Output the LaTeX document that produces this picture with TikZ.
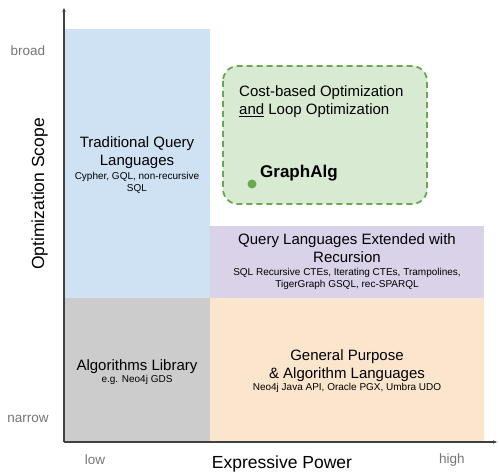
\documentclass[tikz,border=0pt]{standalone}
\usepackage{fontspec}
\setmainfont{Liberation Sans}
\usetikzlibrary{arrows.meta}

\definecolor{tradblue}{HTML}{CFE2F3}
\definecolor{libgray}{HTML}{CCCCCC}
\definecolor{recpurple}{HTML}{D9D2E9}
\definecolor{genorange}{HTML}{FCE5CD}
\definecolor{optfill}{HTML}{D9EAD3}
\definecolor{optline}{HTML}{6AA84F}
\definecolor{axgray}{HTML}{757575}

\tikzset{
  title/.style={font=\fontsize{15}{18}\selectfont, align=center, anchor=base, inner sep=0pt},
  sub/.style={font=\fontsize{10}{12.5}\selectfont, align=center, anchor=base, inner sep=0pt},
  axlabel/.style={font=\fontsize{13.5}{16}\selectfont, text=axgray, anchor=base, inner sep=0pt},
  axtitle/.style={font=\fontsize{17.5}{20}\selectfont, inner sep=0pt}
}

\begin{document}
\begin{tikzpicture}[x=1pt,y=-1pt]
   \useasboundingbox (0,0) rectangle (499,473);
   % quadrants
   \fill[tradblue]  (64,29)   rectangle (210,298);
   \fill[libgray]   (64,298)  rectangle (210,442);
   \fill[recpurple] (210,226) rectangle (484,298);
   \fill[genorange] (210,298) rectangle (484,442);
   % optimization box
   \filldraw[fill=optfill, draw=optline, line width=1.8pt, rounded corners=15pt,
             dash pattern=on 6pt off 4pt] (223,66) rectangle (427,204);
   \fill[optline] (252,184) circle(4.5);
   % axes
   \coordinate (origin) at (64,442);
   \coordinate (ytop)   at (64,7);
   \coordinate (xend)   at (498,442);
   \draw[-{Latex[length=5pt,width=3.5pt]}, line width=1.2pt, black!75] (origin) -- (ytop);
   \draw[-{Latex[length=5pt,width=3.5pt]}, line width=1.2pt, black!75] (origin) -- (xend);
   \node[axlabel] (broad)  at (28,56)  {broad};
   \node[axlabel] (narrow) at (28,423) {narrow};
   \node[axlabel] (low)    at (95,465) {low};
   \node[axlabel] (high)   at (452,464){high};
   \node[axtitle, anchor=base] (xtitle) at (282,469) {Expressive Power};
   \node[axtitle, rotate=90, anchor=base] (ytitle) at (44,194) {Optimization Scope};
   % texts
   \node[title] (tradT) at (137,166) {Traditional Query\\Languages};
   \node[sub]   (tradS) at (137,192) {Cypher, GQL, non-recursive\\SQL};
   \node[title] (libT)  at (137,371) {Algorithms Library};
   \node[sub]   (libS)  at (137,383) {e.g. Neo4j GDS};
   \node[title] (recT)  at (347,263) {Query Languages Extended with\\Recursion};
   \node[sub]   (recS)  at (347,288) {SQL Recursive CTEs, Iterating CTEs, Trampolines,\\TigerGraph GSQL, rec-SPARQL};
   \node[title] (genT)  at (347,379) {General Purpose\\\& Algorithm Languages};
   \node[sub]   (genS)  at (347,391) {Neo4j Java API, Oracle PGX, Umbra UDO};
   \node[title, align=left, anchor=base west] (optT) at (239,115) {Cost-based Optimization\\\underline{and} Loop Optimization};
   \node[font=\fontsize{17}{20}\selectfont\bfseries, anchor=base west, inner sep=0pt] (graphalg) at (260,178) {GraphAlg};
\end{tikzpicture}
\end{document}
